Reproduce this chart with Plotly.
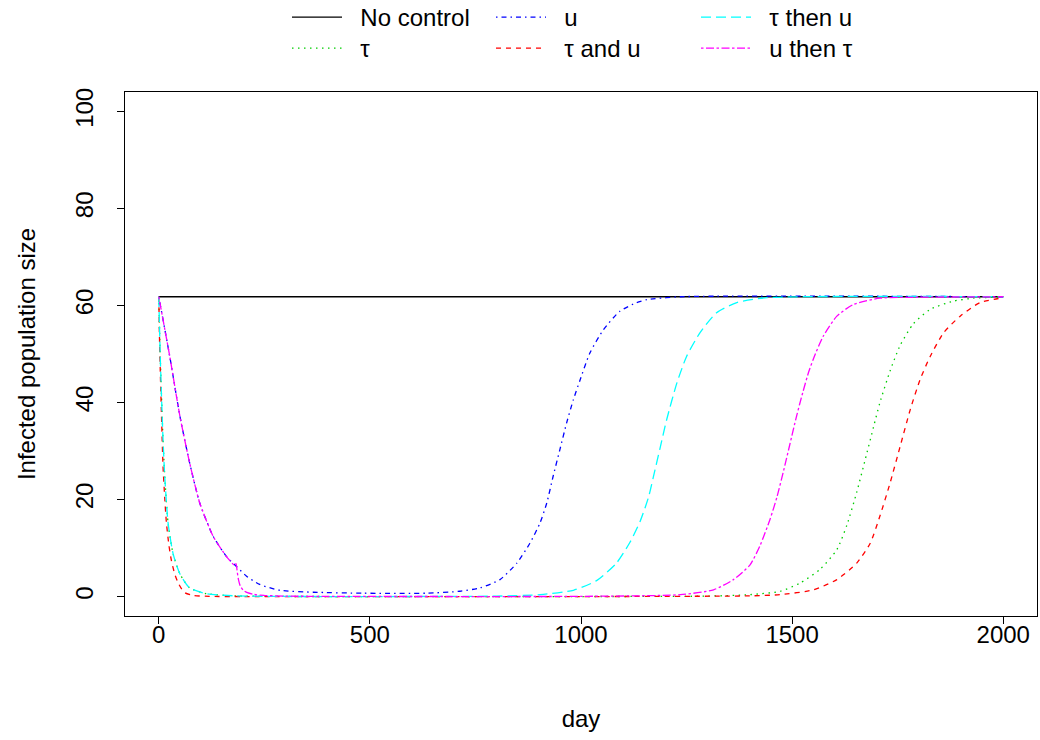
import plotly.graph_objects as go

# ---- data ----
nc_day = [0, 2000]
nc_val = [61.8, 61.8]

tau_day = [0, 2, 4, 6, 10, 14, 22, 34, 50, 73, 113, 180, 300, 600, 1000, 1300, 1400, 1472, 1519, 1566,
           1606, 1630, 1653, 1673, 1693, 1708, 1732, 1756, 1787, 1827, 1882, 1930, 2000]
tau_val = [61.8, 54.5, 48.0, 42.5, 32.5, 25.0, 15.2, 8.8, 4.7, 1.8, 0.6, 0.15, 0.03, 0.01, 0.01, 0.1, 0.4,
           1.1, 2.8, 5.6, 9.7, 14.8, 21.5, 28.2, 35.0, 40.0, 46.5, 51.8, 56.2, 59.2, 60.9, 61.5, 61.75]

u_day = [0, 26, 50, 73, 97, 129, 160, 184, 208, 239, 287, 366, 484, 634, 713, 761, 808, 848, 879, 903,
         919, 934, 950, 966, 982, 998, 1021, 1053, 1092, 1132, 1156, 1235, 2000]
u_val = [61.8, 49.5, 37.2, 27.6, 19.3, 12.4, 8.3, 6.2, 4.2, 2.5, 1.3, 0.9, 0.7, 0.7, 1.1, 1.8, 3.5, 6.9,
         11.0, 15.2, 19.3, 24.8, 30.3, 35.8, 40.6, 44.7, 50.2, 55.0, 58.8, 60.6, 61.2, 61.8, 61.8]

tau_u_day = [0, 2, 4, 7, 10, 14, 18, 24, 30, 38, 46, 54, 62, 80, 120, 200, 600, 1000, 1400, 1472, 1551,
             1606, 1653, 1685, 1708, 1732, 1756, 1780, 1803, 1827, 1859, 1898, 1945, 2000]
tau_u_val = [61.8, 52.0, 45.0, 35.5, 27.0, 20.5, 15.3, 10.6, 7.4, 4.6, 2.8, 1.6, 0.8, 0.25, 0.05, 0.01,
             0.0, 0.0, 0.15, 0.4, 1.4, 3.5, 6.9, 11.0, 16.6, 23.4, 31.0, 38.6, 44.7, 49.5, 54.4, 57.8,
             60.6, 61.6]

tau_then_u_day = [0, 2, 4, 6, 10, 14, 22, 34, 50, 73, 113, 180, 300, 600, 800, 903, 982, 1037, 1084,
                  1116, 1140, 1160, 1171, 1187, 1203, 1227, 1250, 1282, 1321, 1369, 1440, 2000]
tau_then_u_val = [61.8, 54.5, 48.0, 42.5, 32.5, 25.0, 15.2, 8.8, 4.7, 1.8, 0.6, 0.15, 0.03, 0.02, 0.1,
                  0.4, 1.3, 3.3, 6.9, 11.2, 15.5, 20.5, 24.5, 30.5, 36.5, 44.0, 49.5, 54.4, 58.5, 60.6,
                  61.6, 61.8]

u_then_tau_day = [0, 26, 50, 73, 97, 129, 160, 180, 183, 186, 189, 193, 200, 210, 225, 250, 300, 600,
                  1000, 1235, 1314, 1361, 1400, 1424, 1448, 1464, 1480, 1495, 1510, 1525, 1540, 1555,
                  1574, 1606, 1645, 1708, 1800, 2000]
u_then_tau_val = [61.8, 49.5, 37.2, 27.6, 19.3, 12.4, 8.3, 6.4, 6.8, 5.0, 3.4, 2.2, 1.3, 0.8, 0.45, 0.25,
                  0.1, 0.02, 0.05, 0.4, 1.4, 3.5, 6.5, 10.5, 16.0, 20.5, 26.0, 31.5, 37.0, 42.0, 46.5,
                  50.0, 53.7, 57.8, 60.2, 61.5, 61.7, 61.8]

x_ticks = [0, 500, 1000, 1500, 2000]
y_ticks = [0, 20, 40, 60, 80, 100]

FONT = "Liberation Sans, Arial, Helvetica, sans-serif"
FS = 24

# the page body margin is removed by the post script, so the figure fills the window
W, H = 1040, 740
# plot box in window pixels
PL, PR, PT, PB = 125, 1037, 92, 616
pw, ph = PR - PL, PB - PT


def xpaper(px):
    return (px - PL) / pw


def ypaper(px):
    return (PB - px) / ph


# name, x, y, colour, dash, legend id, legend left px, legend top px (window pixels)
ROW1, ROW2 = -5, 26
C1, C2, C3 = 287, 491, 696
series = [
    ("No control", nc_day, nc_val, "#000000", "solid", "legend", C1, ROW1),
    ("τ", tau_day, tau_val, "#00CD00", "1.5px,4.5px", "legend2", C1, ROW2),
    ("u", u_day, u_val, "#0000FF", "1.5px,4px,5px,4px", "legend3", C2, ROW1),
    ("τ and u", tau_u_day, tau_u_val, "#FF0000", "5px,5px", "legend4", C2, ROW2),
    ("τ then u", tau_then_u_day, tau_then_u_val, "#00FFFF", "10px,5px", "legend5", C3, ROW1),
    ("u then τ", u_then_tau_day, u_then_tau_val, "#FF00FF", "2.5px,2.5px,8px,2.5px", "legend6", C3, ROW2),
]

fig = go.Figure()
legends = {}
for name, xd, yd, col, dash, lg, lx, ly in series:
    fig.add_trace(go.Scatter(
        x=xd, y=yd, mode="lines", name="\u00a0\u00a0" + name,
        line=dict(color=col, width=1.3, dash=dash, shape="spline", smoothing=0.6),
        legend=lg, showlegend=True,
    ))
    legends[lg] = dict(orientation="v", yanchor="top", xanchor="left", bgcolor="rgba(0,0,0,0)",
                       font=dict(family=FONT, size=FS, color="black"), itemwidth=50,
                       x=xpaper(lx), y=ypaper(ly), visible=True)

fig.update_layout(
    width=W, height=H, showlegend=True,
    margin=dict(l=PL, r=W - PR, t=PT, b=H - PB, autoexpand=False),
    paper_bgcolor="white", plot_bgcolor="white",
    font=dict(family=FONT, size=FS, color="black"),
    xaxis=dict(
        range=[-80, 2080], tickvals=x_ticks, ticktext=[str(v) for v in x_ticks],
        ticks="outside", ticklen=7, tickwidth=1, tickcolor="black", automargin=False,
        ticklabelstandoff=-10,
        showline=True, linecolor="black", linewidth=1, mirror=True,
        showgrid=False, zeroline=False,
        tickfont=dict(family=FONT, size=FS, color="black"),
        title=dict(text="day", font=dict(family=FONT, size=FS, color="black"), standoff=63),
    ),
    yaxis=dict(
        range=[-4, 104], tickvals=y_ticks, ticktext=[str(v) for v in y_ticks],
        ticks="outside", ticklen=7, tickwidth=1, tickcolor="black", tickangle=-90,
        ticklabelstandoff=14, automargin=False,
        showline=True, linecolor="black", linewidth=1, mirror=True,
        showgrid=False, zeroline=False,
        tickfont=dict(family=FONT, size=FS, color="black"),
        title=dict(text="Infected population size", font=dict(family=FONT, size=FS, color="black"),
                   standoff=29),
    ),
    **legends,
)

fig.write_html("out.html",
               config={"displayModeBar": False, "staticPlot": True},
               post_script="document.body.style.margin='0';document.body.style.overflow='hidden';")
